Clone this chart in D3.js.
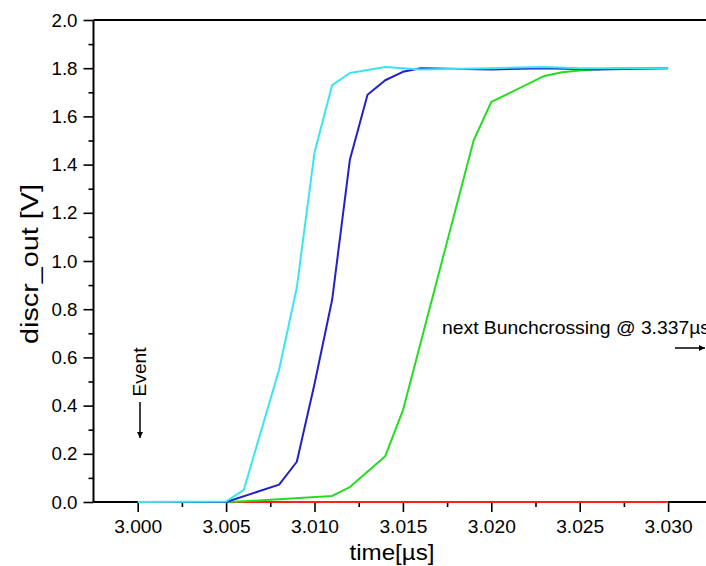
<!DOCTYPE html>
<html>
<head>
<meta charset="utf-8">
<script src="https://cdn.jsdelivr.net/npm/d3@7"></script>
<style>
  html, body { margin: 0; padding: 0; background: #fff; }
  svg { display: block; font-family: "Liberation Sans", Arial, Helvetica, sans-serif; }
</style>
</head>
<body>
<svg id="chart" width="706" height="566"></svg>
<script>
// Discriminator output vs. time for four pulse amplitudes
const timeRed   = [3.000, 3.005, 3.010, 3.015, 3.020, 3.025, 3.030];
const valRed    = [0, 0, 0, 0, 0, 0, 0];

const timeGreen = [3.005, 3.006, 3.011, 3.012, 3.014, 3.015, 3.019, 3.020, 3.023, 3.024, 3.025, 3.027, 3.030];
const valGreen  = [0, 0.003, 0.025, 0.062, 0.19, 0.38, 1.50, 1.66, 1.768, 1.783, 1.79, 1.80, 1.80];

const timeBlue  = [3.002, 3.005, 3.008, 3.009, 3.010, 3.011, 3.012, 3.013, 3.014, 3.015, 3.016, 3.020, 3.023, 3.026, 3.030];
const valBlue   = [0, 0, 0.072, 0.167, 0.49, 0.84, 1.42, 1.69, 1.75, 1.785, 1.80, 1.795, 1.80, 1.795, 1.80];

const timeCyan  = [3.000, 3.005, 3.006, 3.008, 3.009, 3.010, 3.011, 3.012, 3.014, 3.016, 3.020, 3.023, 3.025, 3.030];
const valCyan   = [0, 0.002, 0.05, 0.55, 0.89, 1.45, 1.73, 1.78, 1.805, 1.795, 1.80, 1.805, 1.80, 1.80];

const xMajorTicks = [3.000, 3.005, 3.010, 3.015, 3.020, 3.025, 3.030];
const xMinorTicks = [3.0025, 3.0075, 3.0125, 3.0175, 3.0225, 3.0275];
const yMajorTicks = [0.0, 0.2, 0.4, 0.6, 0.8, 1.0, 1.2, 1.4, 1.6, 1.8, 2.0];
const yMinorTicks = [0.1, 0.3, 0.5, 0.7, 0.9, 1.1, 1.3, 1.5, 1.7, 1.9];

const series = [
  { t: timeRed,   v: valRed,   color: "#ff2020" },
  { t: timeGreen, v: valGreen, color: "#22dd22" },
  { t: timeBlue,  v: valBlue,  color: "#2020cc" },
  { t: timeCyan,  v: valCyan,  color: "#38e6f0" }
];

const svg = d3.select("#chart");
const x = d3.scaleLinear().domain([2.9975, 3.0325]).range([93.5, 712.3]);
const y = d3.scaleLinear().domain([0, 2]).range([502, 20]);

// bottom axis
const xAxis = svg.append("g").attr("transform", `translate(0,${y(0)})`)
  .call(d3.axisBottom(x).tickValues(xMajorTicks).tickFormat(d3.format(".3f")).tickSize(10).tickPadding(8));
const xMinor = svg.append("g").attr("transform", `translate(0,${y(0)})`)
  .call(d3.axisBottom(x).tickValues(xMinorTicks).tickFormat("").tickSize(5));

// left axis
const yAxis = svg.append("g").attr("transform", `translate(${x(2.9975)},0)`)
  .call(d3.axisLeft(y).tickValues(yMajorTicks).tickFormat(d3.format(".1f")).tickSize(10).tickPadding(6));
const yMinor = svg.append("g").attr("transform", `translate(${x(2.9975)},0)`)
  .call(d3.axisLeft(y).tickValues(yMinorTicks).tickFormat("").tickSize(5));

[xAxis, xMinor, yAxis, yMinor].forEach(g => {
  g.attr("font-size", null).attr("font-family", null);
  g.selectAll(".tick line").attr("stroke", "#000").attr("stroke-width", 1.6);
  g.selectAll("text").attr("fill", "#000").attr("font-size", 19)
    .attr("font-family", "'Liberation Sans', Arial, sans-serif");
});
xAxis.selectAll(".tick text").attr("textLength", 48).attr("lengthAdjust", "spacingAndGlyphs");
yAxis.selectAll(".tick text").attr("textLength", 26).attr("lengthAdjust", "spacingAndGlyphs");
[xMinor, yMinor].forEach(g => g.select(".domain").remove());
xAxis.select(".domain").attr("d", `M${x(2.9975)},0H${x(3.0325)}`).attr("stroke", "#000").attr("stroke-width", 2);
yAxis.select(".domain").attr("d", `M0,${y(0)}V${y(2)}`).attr("stroke", "#000").attr("stroke-width", 2);

// top frame line
svg.append("line")
  .attr("x1", x(2.9975)).attr("x2", x(3.0325))
  .attr("y1", y(2)).attr("y2", y(2))
  .attr("stroke", "#000").attr("stroke-width", 2);

// curves, drawn over the axis line
const line = d3.line().x(d => x(d[0])).y(d => y(d[1]));
series.forEach(s => {
  const pts = s.t.map((t, i) => [t, s.v[i]]);
  svg.append("path")
    .attr("d", line(pts))
    .attr("fill", "none")
    .attr("stroke", s.color)
    .attr("stroke-width", 2)
    .attr("stroke-linejoin", "round");
});

// axis titles
svg.append("text")
  .attr("x", 392).attr("y", 560)
  .attr("text-anchor", "middle")
  .attr("font-size", 22).attr("fill", "#000")
  .attr("textLength", 85).attr("lengthAdjust", "spacingAndGlyphs")
  .text("time[µs]");

svg.append("text")
  .attr("transform", "translate(38,264) rotate(-90)")
  .attr("text-anchor", "middle")
  .attr("font-size", 23).attr("fill", "#000")
  .attr("textLength", 160).attr("lengthAdjust", "spacingAndGlyphs")
  .text("discr_out [V]");

// annotations
const defs = svg.append("defs");
defs.append("marker")
  .attr("id", "arrow").attr("viewBox", "0 0 10 10")
  .attr("refX", 10).attr("refY", 5)
  .attr("markerWidth", 8).attr("markerHeight", 6)
  .attr("markerUnits", "userSpaceOnUse")
  .attr("orient", "auto")
  .append("path").attr("d", "M0,0L10,5L0,10Z").attr("fill", "#000");

svg.append("text")
  .attr("transform", "translate(146,372) rotate(-90)")
  .attr("text-anchor", "middle")
  .attr("font-size", 18.5).attr("fill", "#000")
  .attr("textLength", 49).attr("lengthAdjust", "spacingAndGlyphs")
  .text("Event");
svg.append("line")
  .attr("x1", 140).attr("x2", 140).attr("y1", 402).attr("y2", 438)
  .attr("stroke", "#000").attr("stroke-width", 1.5)
  .attr("marker-end", "url(#arrow)");

svg.append("text")
  .attr("x", 442).attr("y", 334)
  .attr("font-size", 18.5).attr("fill", "#000")
  .attr("textLength", 268).attr("lengthAdjust", "spacingAndGlyphs")
  .text("next Bunchcrossing @ 3.337µs");
svg.append("line")
  .attr("x1", 675).attr("x2", 705).attr("y1", 348).attr("y2", 348)
  .attr("stroke", "#000").attr("stroke-width", 1.5)
  .attr("marker-end", "url(#arrow)");
</script>
</body>
</html>
